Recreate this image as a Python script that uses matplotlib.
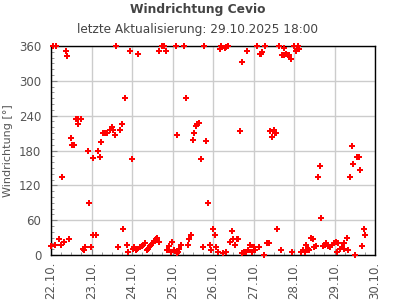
#Windrichtung Cevio - hourly wind direction scatter

import datetime as dt
import matplotlib
matplotlib.use('Agg')
import matplotlib.pyplot as plt
import matplotlib.dates as mdates
from matplotlib.ticker import MultipleLocator

plt.rcParams.update({'font.size': 8})
plt.rcParams.update({'figure.dpi': 100})

start = dt.datetime(2025, 10, 22)
end = dt.datetime(2025, 10, 30)

# hours after 22.10. 00:00
hours = [0.2, 1.2, 2.5, 2.8, 4.5, 5.7, 6.3, 7.5, 8.7, 9.3, 10.4, 11.6, 12.2, 13.6,
         14.6, 15.8, 16.2, 17.5, 19.0, 19.7, 20.3, 21.7, 22.3, 23.5, 24.7, 25.0,
         26.7, 27.6, 28.8, 29.4, 30.6, 32.0, 33.2, 35.1, 35.9, 36.5, 37.7, 38.3,
         39.5, 40.6, 41.8, 42.4, 43.6, 44.8, 45.4, 46.6, 47.8, 48.6, 49.4, 50.1,
         51.0, 51.3, 52.9, 53.7, 54.7, 55.5, 56.7, 57.5, 58.4, 59.3, 60.2, 61.2,
         62.0, 62.8, 64.0, 64.2, 65.5, 66.7, 67.9, 68.5, 69.7, 71.0, 71.5, 72.7,
         73.8, 74.4, 74.9, 75.4, 76.0, 77.2, 78.6, 79.8, 81.0, 81.5, 82.7, 83.9,
         84.5, 85.7, 86.5, 87.5, 88.7, 89.8, 90.4, 91.6, 92.8, 94.0, 94.6, 95.8,
         97.0, 97.5, 98.7, 99.9, 100.7, 101.7, 103.1, 103.5, 103.9, 104.7, 105.8,
         107.0, 107.6, 108.8, 110.0, 110.6, 111.8, 113.0, 113.4, 114.6, 115.7,
         115.9, 116.9, 117.7, 118.9, 120.1, 120.7, 121.8, 123.0, 123.6, 124.4,
         125.0, 126.0, 126.6, 127.8, 128.9, 129.5, 130.7, 131.9, 132.5, 133.3,
         133.7, 134.9, 136.1, 136.7, 137.8, 138.2, 139.0, 140.2, 141.0, 142.0,
         142.6, 143.8, 145.0, 145.8, 146.1, 147.0, 147.9, 149.1, 150.3, 150.9,
         152.1, 152.7, 153.8, 155.0, 155.6, 156.8, 158.0, 159.2, 159.8, 160.9,
         162.1, 162.7, 163.9, 165.1, 166.3, 167.5, 168.7, 169.3, 169.8, 171.0,
         172.2, 173.4, 173.9, 175.2, 175.8, 177.0, 178.1, 178.7, 179.9, 181.1,
         182.3, 182.9, 184.0, 185.2, 185.8]

direction = [15, 360, 17, 360, 27, 17, 134, 22, 351, 342, 27, 201, 189, 189,
             235, 225, 235, 235, 10, 8, 13, 179, 89, 13, 34, 167,
             34, 179, 168, 194, 211, 210, 210, 215, 220, 215, 207, 360,
             13, 216, 225, 44, 270, 17, 5, 352, 165, 10, 13, 8,
             10, 346, 13, 15, 17, 20, 8, 11, 15, 18, 20, 24,
             27, 29, 22, 352, 360, 360, 351, 8, 15, 5, 22, 8,
             360, 206, 3, 6, 10, 17, 360, 270, 17, 27, 34, 198,
             211, 223, 225, 227, 165, 13, 360, 196, 89, 17, 8, 44,
             34, 13, 5, 354, 360, 3, 356, 5, 358, 360, 22,
             41, 27, 17, 27, 27, 213, 332, 3, 5, 6,
             351, 8, 17, 6, 13, 8, 360, 13, 346, 347,
             349, 0, 360, 20, 20, 213, 204, 215, 211, 210,
             44, 360, 8, 344, 344, 356, 346, 344, 344, 337,
             5, 360, 352, 354, 360, 354, 5, 8, 5, 18,
             11, 8, 29, 27, 13, 15, 134, 153, 63, 15,
             18, 20, 15, 13, 17, 20, 22, 5, 20, 11,
             13, 10, 20, 29, 8, 134, 187, 156, 0, 168,
             168, 146, 15, 44, 34]

times = [start + dt.timedelta(hours=h) for h in hours]

fig = plt.figure(figsize=(3.95, 3.0))
ax = fig.add_axes([51/395, 45/300, 324/395, 209/300])

ax.plot(times, direction, linestyle='none', marker='P', markersize=4.5,
        color='#ff0000', markeredgewidth=0, clip_on=False, zorder=3)

ax.set_xlim(start, end)
ax.set_ylim(0, 360)
ax.yaxis.set_major_locator(MultipleLocator(60))
ax.yaxis.set_minor_locator(MultipleLocator(10))
ax.xaxis.set_major_locator(mdates.DayLocator())
ax.xaxis.set_minor_locator(mdates.HourLocator(byhour=[6, 12, 18]))
ax.xaxis.set_major_formatter(mdates.DateFormatter('%d.%m.'))

ax.grid(True, which='major', color='#cccccc', linewidth=1)
ax.set_axisbelow(True)
for s in ax.spines.values():
    s.set_color('black')
    s.set_linewidth(1)

ax.tick_params(which='both', direction='in', color='#888888', labelcolor='#555555')
ax.tick_params(which='major', length=4)
ax.tick_params(which='minor', length=2.5)
ax.tick_params(axis='y', pad=7, labelsize=8.5)
ax.tick_params(axis='x', pad=5, labelsize=8.5, labelrotation=90)

ax.set_ylabel('Windrichtung [°]', color='#555555', fontsize=8, labelpad=4)

fig.text(0.5, 1 - 10/300, 'Windrichtung Cevio', ha='center', va='center',
         fontsize=8.8, fontweight='bold', color='#444444')
fig.text(0.5, 1 - 30/300, 'letzte Aktualisierung: 29.10.2025 18:00', ha='center',
         va='center', fontsize=8.7, color='#444444')

fig.savefig('out.png', dpi=100)
